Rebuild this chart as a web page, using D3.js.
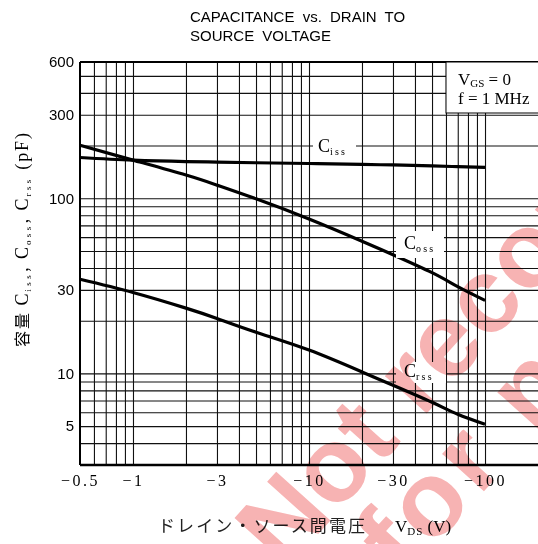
<!DOCTYPE html>
<html>
<head>
<meta charset="utf-8">
<script src="https://cdn.jsdelivr.net/npm/d3@7"></script>
<style>
  html, body { margin: 0; padding: 0; background: #fff; }
  svg { display: block; }
</style>
</head>
<body>
<svg id="chart" width="538" height="544"></svg>
<script>
// ---- data ----
const vds   = [0.5, 1, 2, 3, 5, 10, 20, 30, 50, 70, 100];
const ciss  = [171, 165, 162, 161, 159.5, 158, 156, 155, 153, 151.5, 150];
const coss  = [201, 165.2, 135.7, 118.9, 99.3, 76.2, 56.9, 47.6, 37.6, 31.3, 26.1];
const crss  = [34.5, 29.0, 23.6, 20.6, 17.2, 13.6, 10.2, 8.56, 6.84, 5.84, 5.12];

const xTickValues = [0.5, 1, 3, 10, 30, 100];
const xTickLabels = ["−0.5", "−1", "−3", "−10", "−30", "−100"];
const yTickValues = [5, 10, 30, 100, 300, 600];
const yTickLabels = ["5", "10", "30", "100", "300", "600"];
const xGridValues = [0.6, 0.7, 0.8, 0.9, 1, 2, 3, 4, 5, 6, 7, 8, 9, 10, 20, 30, 40, 50, 60, 70, 80, 90, 100];
const yGridValues = [4, 5, 6, 7, 8, 9, 10, 20, 30, 40, 50, 60, 70, 80, 90, 100, 200, 300, 400, 500];

const svg = d3.select("#chart");
const L = 80, R = 538, T = 62, B = 465;
const x = d3.scaleLog().domain([0.5, 200]).range([L, R]);
const y = d3.scaleLog().domain([3, 600]).range([B, T]);

// ---- grid ----
const grid = svg.append("g");
grid.append("g").attr("transform", `translate(0,${B})`)
  .call(d3.axisBottom(x).tickValues(xGridValues).tickSize(-(B - T)).tickFormat(""))
  .call(g => g.select(".domain").remove())
  .call(g => g.selectAll("line").attr("stroke", "#111").attr("stroke-width", 1.1));
grid.append("g").attr("transform", `translate(${L},0)`)
  .call(d3.axisLeft(y).tickValues(yGridValues).tickSize(-(R - L)).tickFormat(""))
  .call(g => g.select(".domain").remove())
  .call(g => g.selectAll("line").attr("stroke", "#111").attr("stroke-width", 1.1));

// frame
svg.append("line").attr("x1", L).attr("x2", L).attr("y1", T).attr("y2", B).attr("stroke", "#000").attr("stroke-width", 2);
svg.append("line").attr("x1", L).attr("x2", R).attr("y1", T).attr("y2", T).attr("stroke", "#000").attr("stroke-width", 2);
svg.append("line").attr("x1", L).attr("x2", R).attr("y1", B).attr("y2", B).attr("stroke", "#000").attr("stroke-width", 2.5);

// ---- curves ----
const line = d3.line().x(d => x(d[0])).y(d => y(d[1])).curve(d3.curveNatural);
[ciss, coss, crss].forEach(s => {
  svg.append("path").datum(vds.map((v, i) => [v, s[i]]))
    .attr("d", line).attr("fill", "none").attr("stroke", "#000").attr("stroke-width", 3.2);
});

// ---- curve labels ----
function capLabel(xc, yb, sub, box) {
  svg.append("rect").attr("x", box[0]).attr("y", box[1]).attr("width", box[2]).attr("height", box[3]).attr("fill", "#fff");
  const t = svg.append("text").attr("x", xc).attr("y", yb)
    .attr("font-family", "Liberation Serif, serif").attr("font-size", 18).attr("fill", "#000");
  t.append("tspan").text("C");
  t.append("tspan").attr("dy", 3).attr("font-size", 10).attr("letter-spacing", 2.2).text(sub);
}
capLabel(318, 152, "iss", [313, 136, 43, 20]);
capLabel(404, 249, "oss", [396, 231, 48, 27]);
capLabel(404, 377, "rss", [396, 362, 50, 21]);

// ---- legend box ----
svg.append("rect").attr("x", 446).attr("y", T).attr("width", 100).attr("height", 51)
  .attr("fill", "#fff").attr("stroke", "#000").attr("stroke-width", 1);
const lg1 = svg.append("text").attr("x", 458).attr("y", 85)
  .attr("font-family", "Liberation Serif, serif").attr("font-size", 17).attr("fill", "#000");
lg1.append("tspan").text("V");
lg1.append("tspan").attr("dy", 2).attr("font-size", 11).text("GS");
lg1.append("tspan").attr("dy", -2).text(" = 0");
svg.append("text").attr("x", 458).attr("y", 104)
  .attr("font-family", "Liberation Serif, serif").attr("font-size", 17).attr("fill", "#000")
  .text("f = 1 MHz");

// ---- axes labels ----
svg.append("g").attr("transform", `translate(0,${B})`)
  .call(d3.axisBottom(x).tickValues(xTickValues).tickSize(0).tickPadding(10)
    .tickFormat((d, i) => xTickLabels[i]))
  .call(g => g.select(".domain").remove())
  .call(g => g.selectAll("text").attr("font-family", "Liberation Serif, serif")
    .attr("font-size", 16).attr("letter-spacing", 2.5).attr("fill", "#000"));
svg.append("g").attr("transform", `translate(${L},0)`)
  .call(d3.axisLeft(y).tickValues(yTickValues).tickSize(0).tickPadding(6)
    .tickFormat((d, i) => yTickLabels[i]))
  .call(g => g.select(".domain").remove())
  .call(g => g.selectAll("text").attr("font-family", "Liberation Sans, Arial, sans-serif")
    .attr("font-size", 15).attr("fill", "#000"));

// ---- title ----
const title = svg.append("text").attr("font-family", "Liberation Sans, Arial, sans-serif")
  .attr("font-size", 15).attr("word-spacing", 4).attr("fill", "#000");
title.append("tspan").attr("x", 190).attr("y", 22).text("CAPACITANCE vs. DRAIN TO");
title.append("tspan").attr("x", 190).attr("y", 41).text("SOURCE VOLTAGE");

// ---- x axis title ----
svg.append("text").attr("x", 158).attr("y", 532)
  .attr("font-family", "Noto Sans CJK JP, sans-serif").attr("font-size", 17).attr("fill", "#222")
  .attr("textLength", 207).attr("lengthAdjust", "spacing")
  .text("ドレイン・ソース間電圧");
const xt = svg.append("text").attr("x", 395).attr("y", 532)
  .attr("font-family", "Liberation Serif, serif").attr("font-size", 17).attr("fill", "#000");
xt.append("tspan").text("V");
xt.append("tspan").attr("dy", 3).attr("font-size", 11).attr("letter-spacing", 1).text("DS");
xt.append("tspan").attr("dy", -3).text("  (V)");

// ---- y axis title ----
const yt = svg.append("text").attr("transform", "translate(28,240) rotate(-90)")
  .attr("text-anchor", "middle").attr("font-family", "Liberation Serif, serif")
  .attr("font-size", 18).attr("fill", "#000")
  .attr("textLength", 214).attr("lengthAdjust", "spacing");
yt.append("tspan").attr("font-family", "Noto Sans CJK JP, sans-serif").attr("font-size", 16).text("容量  ");
[["iss", ", "], ["oss", ", "], ["rss", "  (pF)"]].forEach(([s, tail]) => {
  yt.append("tspan").attr("dy", 0).text("C");
  yt.append("tspan").attr("dy", 3).attr("font-size", 9).attr("letter-spacing", 1.5).text(s);
  yt.append("tspan").attr("dy", -3).text(tail);
});

// ---- watermark ----
const wm = svg.append("g").style("mix-blend-mode", "multiply");
wm.append("text").attr("transform", "translate(284,572) rotate(-48)")
  .attr("font-family", "Liberation Sans, Arial, sans-serif").attr("font-weight", "bold")
  .attr("font-size", 106).attr("fill", "#f7b3b3").text("Not recommended");
wm.append("text").attr("transform", "translate(404,580) rotate(-48)")
  .attr("font-family", "Liberation Sans, Arial, sans-serif").attr("font-weight", "bold")
  .attr("font-size", 106).attr("letter-spacing", 6).attr("fill", "#f7b3b3").text("for new design");
</script>
</body>
</html>
